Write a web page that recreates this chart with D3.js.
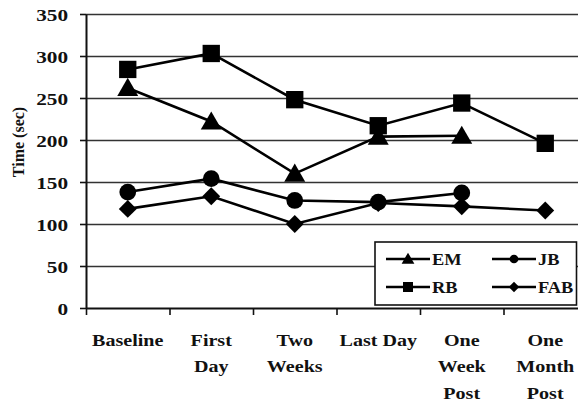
<!DOCTYPE html>
<html>
<head>
<meta charset="utf-8">
<script src="https://cdn.jsdelivr.net/npm/d3@7"></script>
<style>
  body { margin: 0; background: #fff; }
  svg { display: block; }
  svg text { font-family: "Liberation Serif", "Times New Roman", serif; font-weight: bold; }
</style>
</head>
<body>
<script>

//
//**   Dane   **/
//

var categories = [["Baseline"], ["First", "Day"], ["Two", "Weeks"], ["Last Day"], ["One", "Week", "Post"], ["One", "Month", "Post"]];
var yTicks = [0, 50, 100, 150, 200, 250, 300, 350];

var seriesNames = ["EM", "RB", "JB", "FAB"];
var em  = [262, 222, 160, 204, 205, null];
var rb  = [284, 303, 248, 217, 244, 196];
var jb  = [138, 154, 128, 126, 137, null];
var fab = [118, 133, 100, 125, 121, 116];

var width = 578, height = 402;

var svg = d3.select("body").append("svg")
    .attr("width", width)
    .attr("height", height);

//
//**   Osie   **/
//

var plotLeft = 86, plotRight = 587, plotTop = 14, plotBottom = 308;

var x = d3.scaleBand()
    .domain(d3.range(categories.length))
    .range([plotLeft, plotRight]);

var xi = d3.scaleLinear()
    .domain([0, categories.length])
    .range([plotLeft, plotRight]);

var y = d3.scaleLinear()
    .domain([0, 350])
    .range([plotBottom, plotTop]);

// stretch text a bit wider, the original looks squeezed out sideways
function stretch(sel, k) {
    sel.each(function() {
        var w = this.getComputedTextLength();
        d3.select(this).attr("textLength", w * k).attr("lengthAdjust", "spacingAndGlyphs");
    });
}

svg.append("g")
    .attr("transform", "translate(" + plotLeft + ",0)")
    .call(d3.axisRight(y).tickValues(yTicks.slice(1)).tickSize(plotRight - plotLeft).tickFormat(""))
    .call(function(g) { g.select(".domain").remove(); })
    .selectAll("line")
    .attr("stroke", "#333")
    .attr("stroke-width", 1.6);

var gY = svg.append("g")
    .attr("transform", "translate(" + plotLeft + ",0)")
    .call(d3.axisLeft(y).tickValues(yTicks).tickSize(6).tickSizeOuter(0).tickPadding(12));

gY.select(".domain").attr("stroke", "#111").attr("stroke-width", 2);
gY.selectAll("line").attr("stroke", "#111").attr("stroke-width", 1.6);
gY.selectAll("text")
    .style("font-size", "17px")
    .attr("fill", "#111")
    .attr("dy", "0.36em")
    .call(stretch, 1.25);

var gX = svg.append("g")
    .attr("transform", "translate(0," + plotBottom + ")")
    .call(d3.axisBottom(xi).ticks(categories.length).tickSize(7).tickSizeOuter(0).tickFormat(""));

gX.select(".domain").attr("stroke", "#111").attr("stroke-width", 2);
gX.selectAll("line").attr("stroke", "#111").attr("stroke-width", 1.6);

categories.forEach(function(lines, i) {
    lines.forEach(function(t, j) {
        svg.append("text")
            .attr("x", x(i) + x.bandwidth() / 2)
            .attr("y", 345.5 + j * 26.5)
            .style("font-size", "17px")
            .style("text-anchor", "middle")
            .attr("fill", "#111")
            .text(t)
            .call(stretch, 1.18);
    });
});

svg.append("text")
    .attr("transform", "translate(24,142) rotate(-90)")
    .style("font-size", "16px")
    .style("text-anchor", "middle")
    .attr("fill", "#111")
    .text("Time (sec)");

//
//**   Wykres   **/
//

// diamond = square turned by 45 degrees
var symbols = {
    EM: d3.symbolTriangle,
    RB: d3.symbolSquare,
    JB: d3.symbolCircle,
    FAB: d3.symbolSquare
};
var turn = { EM: 0, RB: 0, JB: 0, FAB: 45 };
var sizes = { EM: 190, RB: 300, JB: 220, FAB: 160 };
var legendSizes = { EM: 70, RB: 100, JB: 60, FAB: 55 };
var values = { EM: em, RB: rb, JB: jb, FAB: fab };

var line = d3.line()
    .defined(function(d) { return d != null; })
    .x(function(d, i) { return x(i) + x.bandwidth() / 2; })
    .y(function(d) { return y(d); });

seriesNames.forEach(function(name) {
    var data = values[name];
    svg.append("path")
        .datum(data)
        .attr("d", line)
        .attr("fill", "none")
        .attr("stroke", "#000")
        .attr("stroke-width", 2.6);

    svg.selectAll(".pt-" + name)
        .data(data.map(function(d, i) { return { v: d, i: i }; }).filter(function(d) { return d.v != null; }))
        .enter()
        .append("path")
        .attr("class", "pt-" + name)
        .attr("transform", function(d) {
            var cy = y(d.v) + (name === "EM" ? 2 : 0);
            return "translate(" + (x(d.i) + x.bandwidth() / 2) + "," + cy + ") rotate(" + turn[name] + ")";
        })
        .attr("d", d3.symbol().type(symbols[name]).size(sizes[name]))
        .attr("fill", "#000");
});

//
//**   Legenda   **/
//

var legend = svg.append("g");

legend.append("rect")
    .attr("x", 375)
    .attr("y", 242)
    .attr("width", 201.5)
    .attr("height", 63)
    .attr("fill", "#fff")
    .attr("stroke", "#111")
    .attr("stroke-width", 1.6);

seriesNames.forEach(function(name, k) {
    var col = Math.floor(k / 2), row = k % 2;
    var lx = 386 + col * 106, ly = 259 + row * 28;
    var g = legend.append("g");
    g.append("line")
        .attr("x1", lx).attr("x2", lx + 44)
        .attr("y1", ly).attr("y2", ly)
        .attr("stroke", "#000")
        .attr("stroke-width", 2.4);
    g.append("path")
        .attr("transform", "translate(" + (lx + 22) + "," + (ly + (name === "EM" ? 1 : 0)) + ") rotate(" + turn[name] + ")")
        .attr("d", d3.symbol().type(symbols[name]).size(legendSizes[name]))
        .attr("fill", "#000");
    g.append("text")
        .attr("x", lx + 46)
        .attr("y", ly + 6)
        .style("font-size", "17px")
        .attr("fill", "#111")
        .text(name)
        .call(stretch, 1.08);
});

</script>
</body>
</html>
